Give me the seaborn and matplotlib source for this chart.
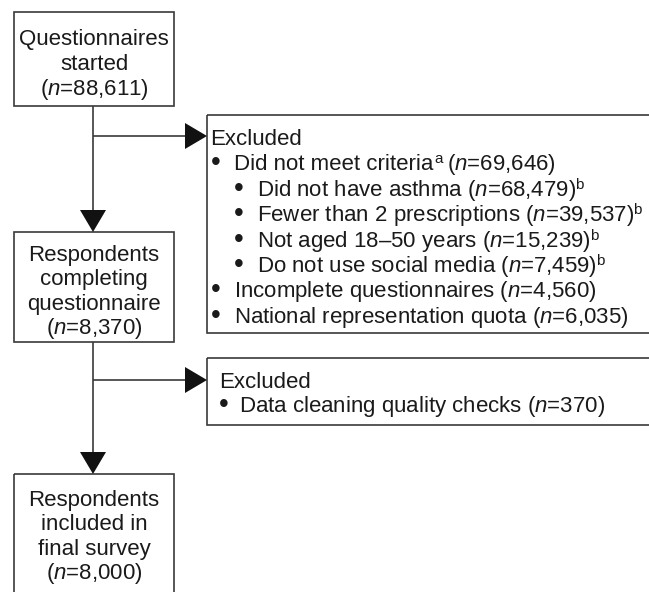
import seaborn as sns
import matplotlib.pyplot as plt
from matplotlib.patches import Rectangle, Polygon

# flow stages
stage_labels = [["Questionnaires", "started"],
                ["Respondents", "completing", "questionnaire"],
                ["Respondents", "included in", "final survey"]]
stage_n = [88611, 8370, 8000]

# first exclusion step
criteria_n = 69646
crit_labels = ["Did not have asthma", "Fewer than 2 prescriptions",
               "Not aged 18\u201350 years", "Do not use social media"]
crit_n = [68479, 39537, 15239, 7459]
other_labels = ["Incomplete questionnaires", "National representation quota"]
other_n = [4560, 6035]

# second exclusion step
cleaning_label = "Data cleaning quality checks"
cleaning_n = 370

sns.set_theme(style="white")
plt.rcParams["font.family"] = ["Liberation Sans", "DejaVu Sans"]
plt.rcParams["mathtext.fontset"] = "custom"
plt.rcParams["mathtext.rm"] = "Liberation Sans"
plt.rcParams["mathtext.it"] = "Liberation Sans:italic"

FS = 16
TXT = "#1a1a1a"
LN = "#3a3a3a"
LW = 1.2


def n_str(n):
    return "($\\mathit{n}$=" + f"{n:,}" + ")"


fig = plt.figure(figsize=(6.49, 5.92), dpi=100)
ax = fig.add_axes([0, 0, 1, 1])
ax.set_xlim(0, 649)
ax.set_ylim(592, 0)
ax.axis("off")
renderer = fig.canvas.get_renderer()


def box(x0, y0, x1, y1):
    ax.add_patch(Rectangle((x0, y0), x1 - x0, y1 - y0, fill=False,
                           ec=LN, lw=LW, zorder=2))


def line(x, y):
    ax.plot(x, y, color=LN, lw=LW, solid_capstyle="butt", zorder=1)


def arrow_down(x, y_tip):
    ax.add_patch(Polygon([(x - 13, y_tip - 22), (x + 13, y_tip - 22), (x, y_tip)],
                         closed=True, fc="#111111", ec="none", zorder=3))


def arrow_right(x_tip, y):
    ax.add_patch(Polygon([(x_tip - 22, y - 13), (x_tip - 22, y + 13), (x_tip, y)],
                         closed=True, fc="#111111", ec="none", zorder=3))


def txt(x, y, s, ha="left", size=FS):
    return ax.text(x, y + 8, s, fontsize=size, color=TXT, ha=ha, va="baseline")


def right_end(t):
    bb = t.get_window_extent(renderer)
    return ax.transData.inverted().transform((bb.x1, bb.y0))[0]


def sup(x, y, s):
    ax.text(x, y + 1, s, fontsize=11, color=TXT, ha="left", va="baseline")


def bullet(x, y):
    ax.text(x, y + 1, "\u2022", fontsize=20, color=TXT, ha="center", va="center")


# main column
cx = 94
stage_boxes = [(12, 106), (232, 342), (474, 600)]
stage_lines = [[37, 62, 87], [253, 277, 302, 326], [498, 522, 547, 571]]
for lab, n, (y0, y1), ys in zip(stage_labels, stage_n, stage_boxes, stage_lines):
    box(14, y0, 174, y1)
    rows = lab + [n_str(n)]
    for s, y in zip(rows, ys):
        txt(cx, y, s, ha="center")

# connectors
line([93, 93], [106, 210])
arrow_down(93, 232)
line([93, 186], [136, 136])
arrow_right(207, 136)

line([93, 93], [342, 454])
arrow_down(93, 474)
line([93, 186], [380, 380])
arrow_right(207, 380)

# exclusion box 1
box(207, 115, 660, 333)
ys = [137 + 25.4 * i for i in range(8)]
txt(210, ys[0], "Excluded")
bullet(216, ys[1])
t = txt(234, ys[1], "Did not meet criteria")
sup(right_end(t) + 1, ys[1], "a")
txt(right_end(t) + 14, ys[1], n_str(criteria_n))
for i, (lab, n) in enumerate(zip(crit_labels, crit_n)):
    bullet(239, ys[2 + i])
    t = txt(257, ys[2 + i], lab + " " + n_str(n))
    sup(right_end(t) - 1, ys[2 + i], "b")
for i, (lab, n) in enumerate(zip(other_labels, other_n)):
    bullet(216, ys[6 + i])
    txt(234, ys[6 + i], lab + " " + n_str(n))

# exclusion box 2
box(207, 358, 660, 425)
txt(219, 380, "Excluded")
bullet(224, 404)
txt(239, 404, cleaning_label + " " + n_str(cleaning_n))

fig.savefig("out.png", dpi=100)
